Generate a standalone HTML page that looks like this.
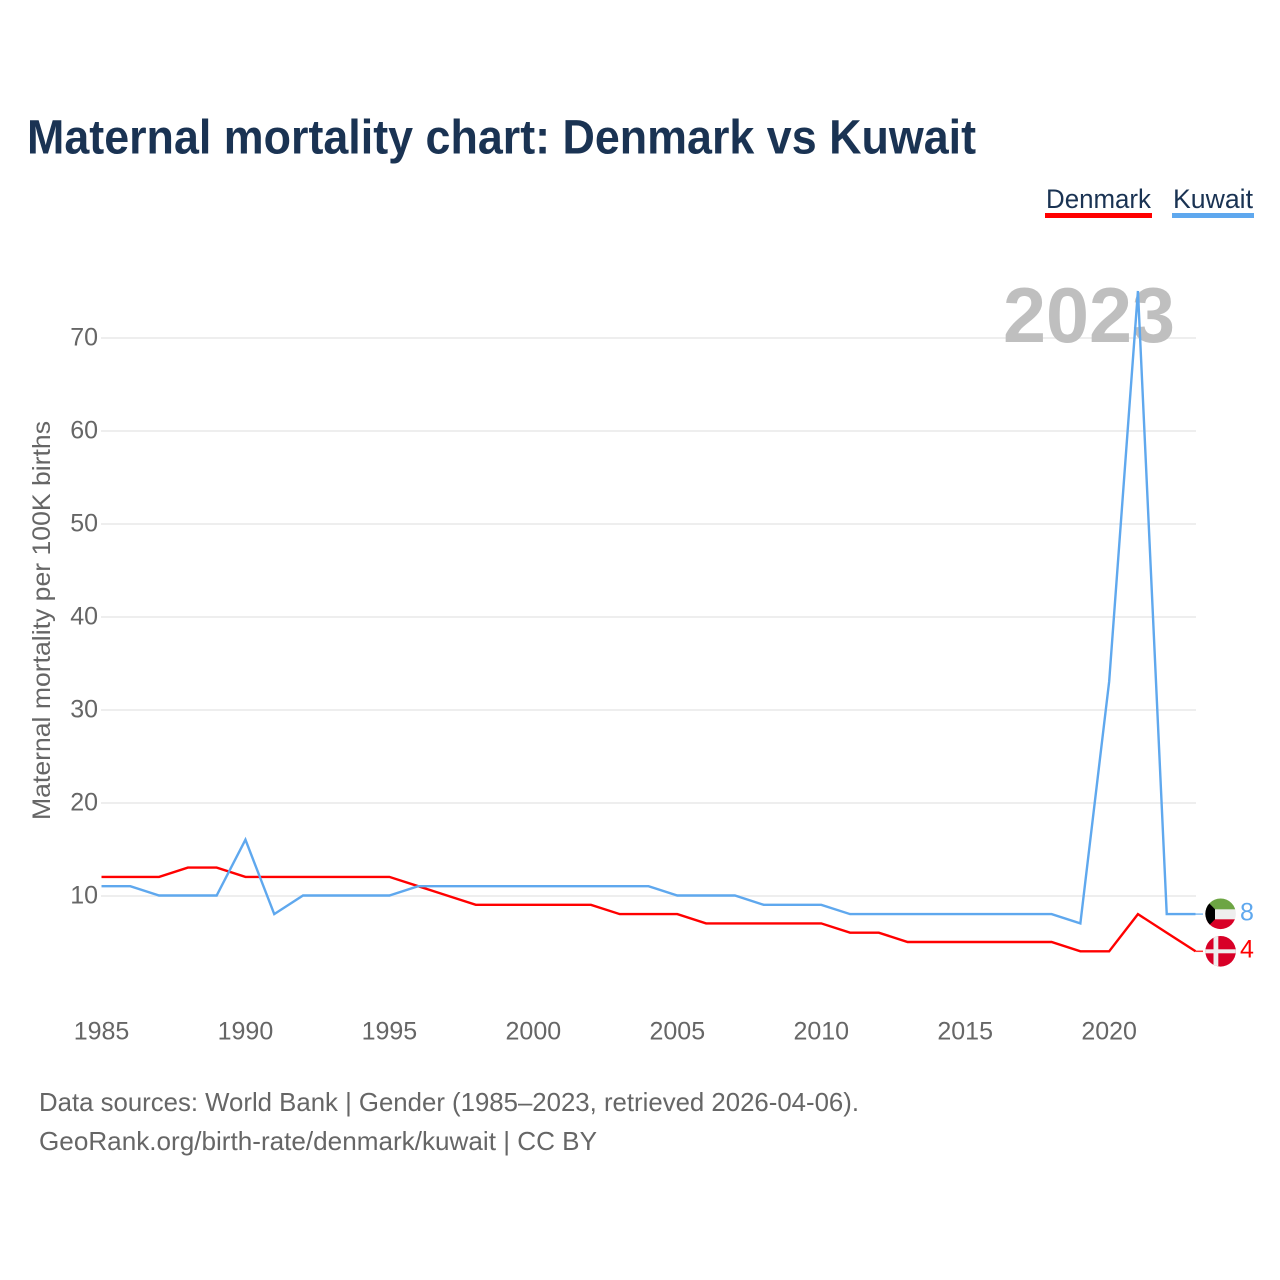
<!DOCTYPE html>
<html lang="en">
<head>
<meta charset="utf-8">
<title>Maternal mortality chart: Denmark vs Kuwait</title>
<style>
html,body{margin:0;padding:0;background:#fff}
svg{display:block}
text{font-family:"Liberation Sans",sans-serif}
</style>
</head>
<body>
<svg id="chart" xmlns="http://www.w3.org/2000/svg" width="1280" height="1280" viewBox="0 0 1280 1280">
  <rect width="1280" height="1280" fill="#fff"/>
  <text x="27" y="153.5" font-size="48" font-weight="700" fill="#1a3353" textLength="949" lengthAdjust="spacingAndGlyphs">Maternal mortality chart: Denmark vs Kuwait</text>

  <g id="grid"></g>
  <g id="y-axis"></g>
  <g id="x-axis"></g>
  <text transform="translate(50 820) rotate(-90)" font-size="25" fill="#666" textLength="399" lengthAdjust="spacingAndGlyphs">Maternal mortality per 100K births</text>

  <text x="1003" y="342" font-size="78" font-weight="700" fill="#bfbfbf" textLength="172" lengthAdjust="spacingAndGlyphs">2023</text>

  <g id="series"></g>

  <g>
    <text x="1046" y="208" font-size="27" fill="#1a3353" textLength="105" lengthAdjust="spacingAndGlyphs">Denmark</text>
    <rect x="1045" y="213" width="107" height="5" fill="#ff0000"/>
  </g>
  <g>
    <text x="1173" y="208" font-size="27" fill="#1a3353" textLength="80" lengthAdjust="spacingAndGlyphs">Kuwait</text>
    <rect x="1172" y="213" width="82" height="5" fill="#5fa8ee"/>
  </g>

  <defs>
    <clipPath id="kw-clip"><circle cx="1220.6" cy="913.8" r="15.3"/></clipPath>
    <clipPath id="dk-clip"><circle cx="1220.6" cy="951.3" r="15.3"/></clipPath>
  </defs>
  <g id="kuwait-flag" clip-path="url(#kw-clip)">
    <rect x="1205" y="898" width="31" height="11.5" fill="#6da544"/>
    <rect x="1205" y="909.3" width="31" height="10" fill="#eeeeee"/>
    <rect x="1205" y="919.3" width="31" height="11" fill="#d80027"/>
    <polygon points="1205,899 1215,909.3 1215,919.3 1205,929.5" fill="#000"/>
  </g>
  <g id="denmark-flag" clip-path="url(#dk-clip)">
    <rect x="1205" y="936" width="31" height="31" fill="#d80027"/>
    <rect x="1213.5" y="936" width="4.8" height="31" fill="#eeeeee"/>
    <rect x="1205" y="949.3" width="31" height="4" fill="#eeeeee"/>
  </g>
  <text id="kuwait-end" x="1240" y="920.5" font-size="25" fill="#5fa8ee">8</text>
  <text id="denmark-end" x="1240" y="957.5" font-size="25" fill="#ff0000">4</text>

  <text x="39" y="1111" font-size="26" fill="#666" textLength="820" lengthAdjust="spacingAndGlyphs">Data sources: World Bank | Gender (1985–2023, retrieved 2026-04-06).</text>
  <text x="39" y="1150" font-size="26" fill="#666" textLength="558" lengthAdjust="spacingAndGlyphs">GeoRank.org/birth-rate/denmark/kuwait | CC BY</text>
</svg>
<script>
const startYear = 1985;
const denmarkValues = [12,12,12,13,13,12,12,12,12,12,12,11,10,9,9,9,9,9,8,8,8,7,7,7,7,7,6,6,5,5,5,5,5,5,4,4,8,6,4];
const kuwaitValues = [11,11,10,10,10,16,8,10,10,10,10,11,11,11,11,11,11,11,11,11,10,10,10,9,9,9,8,8,8,8,8,8,8,8,7,33,75,8,8];
const yTickValues = [10,20,30,40,50,60,70];
const xTickYears = [1985,1990,1995,2000,2005,2010,2015,2020];

const NS = 'http://www.w3.org/2000/svg';
const xScale = function (year) { return 101.5 + (year - 1985) * 28.79; };
const yScale = function (value) { return 989 - value * 9.3; };
const lineY = function (value) { return yScale(value) - 0.5; };

const gridGroup = document.getElementById('grid');
const yGroup = document.getElementById('y-axis');
const xGroup = document.getElementById('x-axis');
const seriesGroup = document.getElementById('series');

yTickValues.forEach(function (v) {
  const line = document.createElementNS(NS, 'line');
  
  
  line.setAttribute('x1', 101);
  line.setAttribute('x2', 1196);
  line.setAttribute('y1', yScale(v));
  line.setAttribute('y2', yScale(v));
  line.setAttribute('stroke', '#eeeeee');
  line.setAttribute('stroke-width', 2);
  gridGroup.appendChild(line);

  const label = document.createElementNS(NS, 'text');
  
  
  label.setAttribute('x', 98);
  label.setAttribute('y', yScale(v) + 7.5);
  label.setAttribute('text-anchor', 'end');
  label.setAttribute('font-size', 25);
  label.setAttribute('fill', '#666');
  label.textContent = v;
  yGroup.appendChild(label);
});

xTickYears.forEach(function (year) {
  const label = document.createElementNS(NS, 'text');
  
  
  label.setAttribute('x', xScale(year));
  label.setAttribute('y', 1039.5);
  label.setAttribute('text-anchor', 'middle');
  label.setAttribute('font-size', 25);
  label.setAttribute('fill', '#666');
  label.textContent = year;
  xGroup.appendChild(label);
});

function pointsOf(values) {
  return values.map(function (v, i) {
    return xScale(startYear + i).toFixed(2) + ',' + lineY(v).toFixed(2);
  }).join(' ');
}

function endStub(values, color) {
  const last = lineY(values[values.length - 1]);
  const stub = document.createElementNS(NS, 'line');
  
  
  stub.setAttribute('x1', xScale(startYear + values.length - 1));
  stub.setAttribute('x2', 1203);
  stub.setAttribute('y1', last);
  stub.setAttribute('y2', last);
  stub.setAttribute('stroke', color);
  stub.setAttribute('stroke-width', 1.5);
  stub.setAttribute('opacity', 0.8);
  seriesGroup.appendChild(stub);
}

const denmarkLine = document.createElementNS(NS, 'polyline');


denmarkLine.setAttribute('points', pointsOf(denmarkValues));
denmarkLine.setAttribute('fill', 'none');
denmarkLine.setAttribute('stroke', '#ff0000');
denmarkLine.setAttribute('stroke-width', 2.4);
seriesGroup.appendChild(denmarkLine);
endStub(denmarkValues, '#ff0000');

const kuwaitLine = document.createElementNS(NS, 'polyline');


kuwaitLine.setAttribute('points', pointsOf(kuwaitValues));
kuwaitLine.setAttribute('fill', 'none');
kuwaitLine.setAttribute('stroke', '#5fa8ee');
kuwaitLine.setAttribute('stroke-width', 2.4);
seriesGroup.appendChild(kuwaitLine);
endStub(kuwaitValues, '#5fa8ee');

document.getElementById('kuwait-end').textContent = kuwaitValues[kuwaitValues.length - 1];
document.getElementById('denmark-end').textContent = denmarkValues[denmarkValues.length - 1];
</script>
</body>
</html>
